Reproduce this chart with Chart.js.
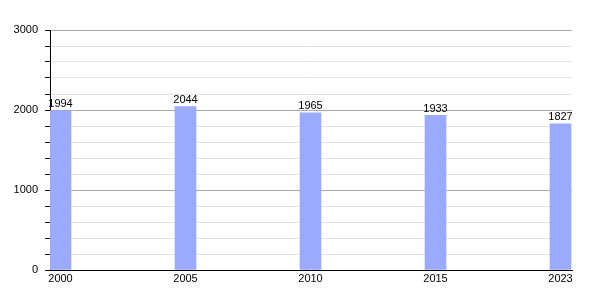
<!DOCTYPE html>
<html>
<head>
<meta charset="utf-8">
<script src="https://cdn.jsdelivr.net/npm/chart.js@4"></script>
<style>
  html, body { margin: 0; padding: 0; background: #fff; }
</style>
</head>
<body>
<canvas id="popChart" width="600" height="300"></canvas>
<script>
// Data
const years = ["2000", "2005", "2010", "2015", "2023"];
const population = [1994, 2044, 1965, 1933, 1827];
const yTicks = [0, 1000, 2000, 3000];

const fontFamily = "'Liberation Sans', Arial, sans-serif";

// value labels above the bars
const barLabels = {
    id: "barLabels",
    afterDatasetsDraw(chart) {
        const ctx = chart.ctx;
        const meta = chart.getDatasetMeta(0);
        ctx.save();
        ctx.font = "11px " + fontFamily;
        ctx.fillStyle = "#000";
        ctx.textAlign = "center";
        ctx.textBaseline = "bottom";
        meta.data.forEach(function (bar, i) {
            ctx.fillText(String(population[i]), bar.x, bar.y - 1);
        });
        ctx.restore();
    }
};

new Chart(document.getElementById("popChart"), {
    type: "bar",
    data: {
        datasets: [{
            data: population.map(function (v, i) { return { x: i, y: v }; }),
            backgroundColor: "#99aaff",
            barThickness: 21
        }]
    },
    options: {
        responsive: false,
        animation: false,
        devicePixelRatio: 1,
        layout: { padding: { top: 30, right: 28, bottom: 0, left: 0 } },
        plugins: {
            legend: { display: false },
            tooltip: { enabled: false }
        },
        scales: {
            x: {
                type: "linear",
                offset: false,
                min: -0.084,
                max: 4.092,
                afterBuildTicks: function (scale) {
                    scale.ticks = years.map(function (y, i) { return { value: i }; });
                },
                afterFit: function (scale) { scale.height = 30; },
                ticks: {
                    color: "#000",
                    font: { size: 11, family: fontFamily },
                    padding: 2,
                    maxRotation: 0,
                    autoSkip: false,
                    callback: function (v) { return years[v]; }
                },
                grid: { drawOnChartArea: false, drawTicks: false },
                border: { color: "#000", width: 1 }
            },
            y: {
                min: 0,
                max: 3000,
                afterBuildTicks: function (scale) {
                    const t = [];
                    for (let v = 0; v <= 3000; v += 200) t.push({ value: v });
                    scale.ticks = t;
                },
                afterFit: function (scale) { scale.width = 50; },
                ticks: {
                    autoSkip: false,
                    color: "#000",
                    font: { size: 11, family: fontFamily },
                    padding: 7,
                    callback: function (v) { return yTicks.includes(v) ? String(v) : ""; }
                },
                grid: {
                    tickLength: 5,
                    tickColor: "#000",
                    color: function (c) {
                        return c.tick && c.tick.value % 1000 === 0 ? "#aaaaaa" : "#e4e4e4";
                    }
                },
                border: { color: "#000", width: 1 }
            }
        }
    },
    plugins: [barLabels]
});
</script>
</body>
</html>
